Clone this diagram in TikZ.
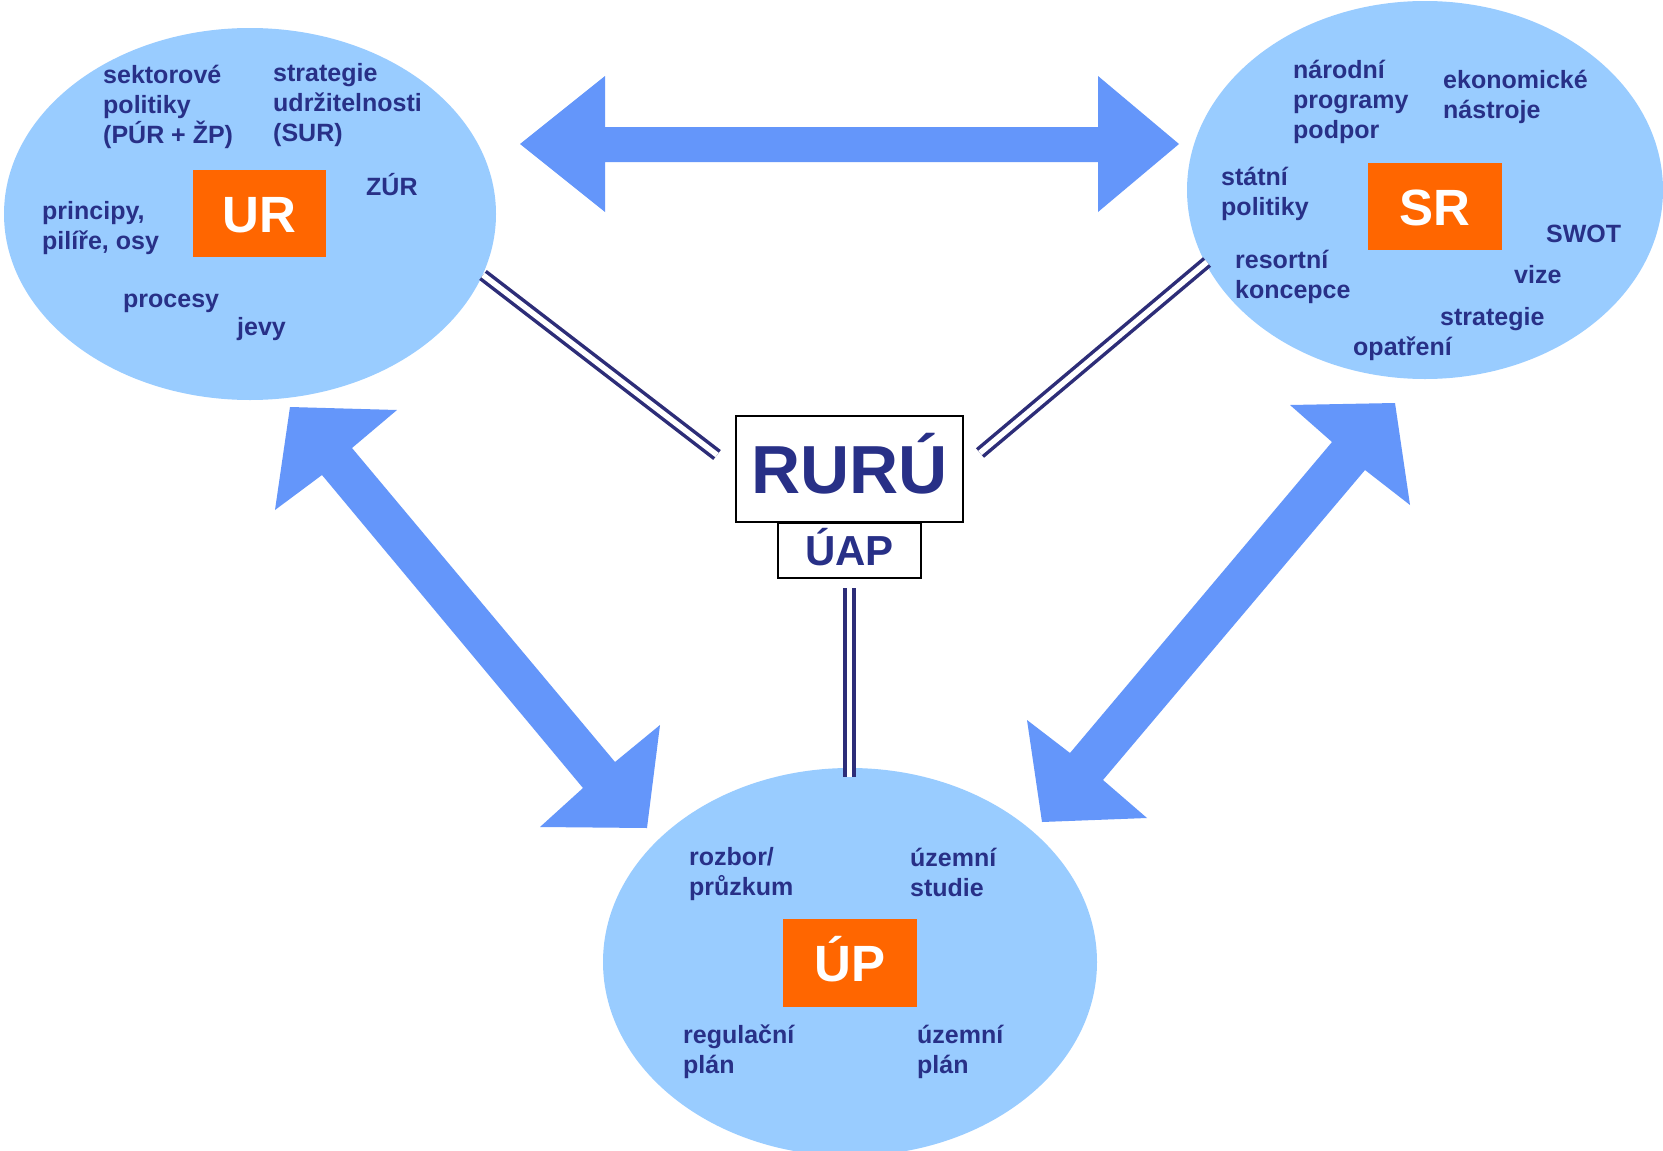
\documentclass[tikz,border=0pt]{standalone}
\usepackage{fontspec}
\setmainfont{Liberation Sans}
\usetikzlibrary{shapes.geometric}
\definecolor{ellfill}{RGB}{153,204,255}
\definecolor{arrblue}{RGB}{100,150,250}
\definecolor{navy}{RGB}{40,48,135}
\definecolor{linenavy}{RGB}{45,45,120}
\definecolor{boxorange}{RGB}{255,102,0}
\begin{document}
\begin{tikzpicture}[x=1pt,y=-1pt,
  ell/.style={ellipse, fill=ellfill, inner sep=0pt},
  obox/.style={fill=boxorange, inner sep=0pt, text=white,
    font=\fontsize{51}{55}\selectfont\bfseries, text height=37pt, text depth=0pt},
  txt/.style={anchor=base west, align=left, inner sep=0pt, text=navy,
    font=\fontsize{25}{30}\selectfont\bfseries},
  wbox/.style={draw=black, fill=white, line width=1.5pt, inner sep=0pt, text=navy},
  dline/.style={draw=linenavy, line width=3.5pt, double=white, double distance=5.5pt},
  blockarrow/.style={fill=arrblue}]
\clip (0,0) rectangle (1663,1151);
\fill[white] (0,0) rectangle (1663,1151);

% ellipses
\node[ell, minimum width=492pt, minimum height=372pt] (URell) at (250,214) {};
\node[ell, minimum width=476pt, minimum height=378pt] (SRell) at (1425,190) {};
\node[ell, minimum width=494pt, minimum height=388pt] (UPell) at (850,962) {};

% block arrows
\fill[blockarrow] (520,144) -- (605,76) -- (605,127) -- (1098,127) -- (1098,76)
  -- (1179,144) -- (1098,212) -- (1098,162) -- (605,162) -- (605,212) -- cycle;
\fill[blockarrow] (290,407) -- (397,410) -- (352,448) -- (615,762) -- (660,725)
  -- (647,828) -- (540,827) -- (583,788) -- (322,475) -- (275,510) -- cycle;
\fill[blockarrow] (1395,403) -- (1410,505) -- (1365,470) -- (1103,780) -- (1147,818)
  -- (1042,822) -- (1027,720) -- (1070,753) -- (1332,442) -- (1290,405) -- cycle;

% orange boxes
\node[obox, minimum width=133pt, minimum height=87pt] (UR) at (259.5,213.5) {UR};
\node[obox, minimum width=134pt, minimum height=87pt] (SR) at (1435,206.5) {SR};
\node[obox, minimum width=134pt, minimum height=88pt] (UP) at (850,963) {ÚP};

% central boxes
\node[wbox, minimum width=227pt, minimum height=106pt, font=\fontsize{68}{72}\selectfont\bfseries,
  text height=49pt, text depth=0pt] (RURU) at (849.5,469) {RURÚ};
\node[wbox, minimum width=143pt, minimum height=55pt, font=\fontsize{42}{46}\selectfont\bfseries,
  text height=30pt, text depth=0pt] (UAP) at (849.5,550.5) {ÚAP};

% double connectors
\coordinate (l1a) at (483,275);
\coordinate (l1b) at (717,455);
\coordinate (l2a) at (1207,262);
\coordinate (l2b) at (980,453);
\coordinate (l3a) at (849.5,588);
\coordinate (l3b) at (849.5,777);
\draw[dline] (l1a) -- (l1b);
\draw[dline] (l2a) -- (l2b);
\draw[dline] (l3a) -- (l3b);

% UR texts (anchor = baseline of last line)
\node[txt] (t1) at (103,143) {sektorové\\politiky\\(PÚR + ŽP)};
\node[txt] (t2) at (273,141) {strategie\\udržitelnosti\\(SUR)};
\node[txt] (t3) at (366,195) {ZÚR};
\node[txt] (t4) at (42,249) {principy,\\pilíře, osy};
\node[txt] (t5) at (123,307) {procesy};
\node[txt] (t6) at (237,335) {jevy};

% SR texts
\node[txt] (s1) at (1293,138) {národní\\programy\\podpor};
\node[txt] (s2) at (1443,118) {ekonomické\\nástroje};
\node[txt] (s3) at (1221,215) {státní\\politiky};
\node[txt] (s4) at (1235,298) {resortní\\koncepce};
\node[txt] (s5) at (1546,242) {SWOT};
\node[txt] (s6) at (1514,283) {vize};
\node[txt] (s7) at (1440,325) {strategie};
\node[txt] (s8) at (1353,355) {opatření};

% UP texts
\node[txt] (u1) at (689,895) {rozbor/\\průzkum};
\node[txt] (u2) at (910,896) {územní\\studie};
\node[txt] (u3) at (683,1073) {regulační\\plán};
\node[txt] (u4) at (917,1073) {územní\\plán};
\end{tikzpicture}
\end{document}
